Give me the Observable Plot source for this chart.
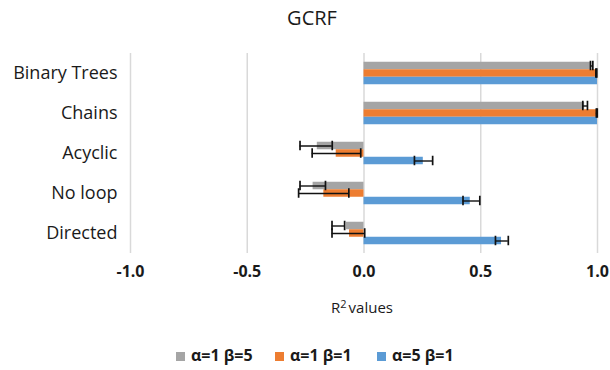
<!DOCTYPE html>
<html>
<head>
<meta charset="utf-8">
<script src="https://cdn.jsdelivr.net/npm/d3@7"></script>
<script src="https://cdn.jsdelivr.net/npm/@observablehq/plot@0.6"></script>
<style>
  html, body { margin: 0; padding: 0; background: #fff; }
  #wrap { position: relative; width: 610px; height: 370px; font-family: "Open Sans", Lato, sans-serif; color: #1a1a1a; }
  #title { position: absolute; left: 0; width: 624px; top: 4px; text-align: center; font-size: 20px; line-height: 28px; font-weight: 500; }
  #chart { position: absolute; left: 0; top: 45px; }
  #xlabel { position: absolute; left: 262px; width: 200px; top: 296px; text-align: center; font-size: 15px; line-height: 22px; }
  #xlabel sup { font-size: 11px; vertical-align: 5px; line-height: 0; margin-right: 2px; }
  #legend { position: absolute; top: 344px; left: 0; width: 610px; height: 22px; font-size: 16px; line-height: 22px; font-weight: bold; }
  .li { position: absolute; top: 0; white-space: nowrap; }
  .sw { display: inline-block; width: 9px; height: 9px; margin-right: 6px; vertical-align: 0px; }
  svg g[aria-label^="x-axis"] text { font-weight: bold; font-size: 16px; }
  svg g[aria-label^="y-axis"] text { font-size: 18px; font-weight: 500; }
</style>
</head>
<body>
<div id="wrap">
  <div id="title">GCRF</div>
  <div id="chart"></div>
  <div id="xlabel">R<sup>2</sup>values</div>
  <div id="legend"></div>
</div>
<script>
const categories = ["Binary Trees", "Chains", "Acyclic", "No loop", "Directed"];
const series = ["α=1 β=5", "α=1 β=1", "α=5 β=1"];
const colors = ["#a5a5a5", "#ed7d31", "#5b9bd5"];
const xTicks = [-1, -0.5, 0, 0.5, 1];

// values per series (same order as categories)
const gray   = [0.975, 0.945, -0.200, -0.218, -0.075];
const orange = [0.995, 0.997, -0.119, -0.172, -0.062];
const blue   = [1.000, 1.000,  0.254,  0.455,  0.589];

// error bar extents (null = not shown)
const grayLo   = [0.970, 0.937, -0.274, -0.274, -0.137];
const grayHi   = [0.980, 0.957, -0.136, -0.165, -0.083];
const orangeLo = [0.993, 0.995, -0.222, -0.280, -0.137];
const orangeHi = [0.997, 0.999, -0.014, -0.065,  0.003];
const blueLo   = [null, null, 0.216, 0.424, 0.563];
const blueHi   = [null, null, 0.294, 0.496, 0.618];

const vals = [gray, orange, blue];
const los = [grayLo, orangeLo, blueLo];
const his = [grayHi, orangeHi, blueHi];

const table = [];
series.forEach((s, si) => categories.forEach((c, ci) => {
  table.push({category: c, series: s, si, value: vals[si][ci], lo: los[si][ci], hi: his[si][ci]});
}));

const barH = 7.5;
const groupTop = 20 - 1.5 * barH;
const marks = [
  Plot.ruleX(xTicks, {stroke: "#d9d9d9", strokeWidth: 1.5})
];
series.forEach((s, si) => {
  const d = table.filter(r => r.si === si);
  const top = groupTop + si * barH;
  marks.push(Plot.barX(d, {x: "value", y: "category", fill: colors[si], insetTop: top, insetBottom: 40 - top - barH}));
});
series.forEach((s, si) => {
  const d = table.filter(r => r.si === si && r.lo != null);
  const dy = (si - 1) * barH;
  const top = groupTop + si * barH - 1;
  marks.push(Plot.ruleY(d, {x1: "lo", x2: "hi", y: "category", dy, stroke: "#111", strokeWidth: 1.4}));
  marks.push(Plot.tickX(d, {x: "lo", y: "category", stroke: "#111", strokeWidth: 1.7, insetTop: top, insetBottom: 40 - top - barH - 2}));
  marks.push(Plot.tickX(d, {x: "hi", y: "category", stroke: "#111", strokeWidth: 1.7, insetTop: top, insetBottom: 40 - top - barH - 2}));
});

const chart = Plot.plot({
  width: 610,
  height: 245,
  marginTop: 8,
  marginBottom: 37,
  marginLeft: 130,
  marginRight: 13,
  style: {fontFamily: "'Open Sans', Lato, sans-serif", color: "#1a1a1a", background: "transparent"},
  x: {domain: [-1, 1], ticks: xTicks, tickFormat: d => d.toFixed(1), tickSize: 0, tickPadding: 12, label: null},
  y: {domain: categories, padding: 0, tickSize: 0, tickPadding: 13, label: null},
  marks
});
document.getElementById("chart").appendChild(chart);

const legendX = [176, 275, 377];
const lg = document.getElementById("legend");
series.forEach((s, i) => {
  const el = document.createElement("span");
  el.className = "li";
  el.style.left = legendX[i] + "px";
  el.innerHTML = `<span class="sw" style="background:${colors[i]}"></span>${s}`;
  lg.appendChild(el);
});
</script>
</body>
</html>
